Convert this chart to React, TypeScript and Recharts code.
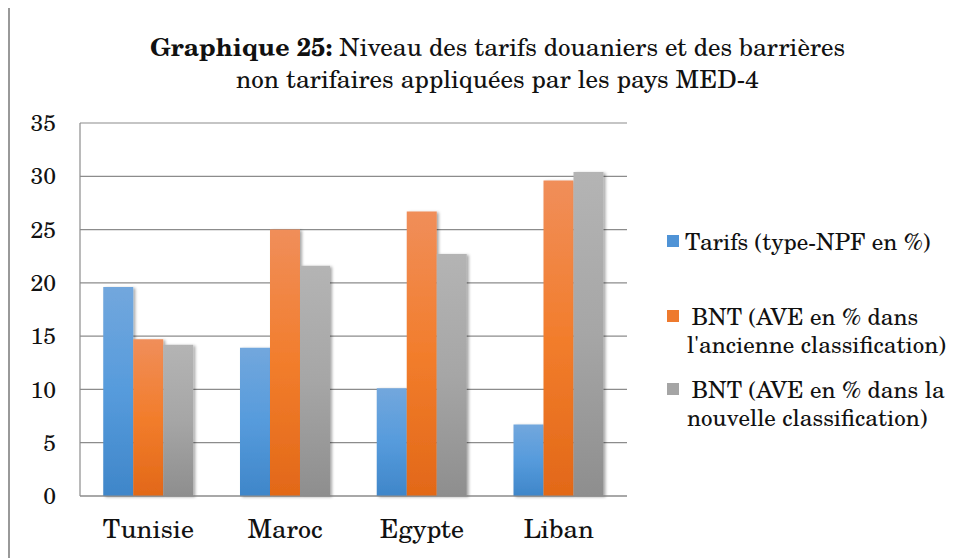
import { BarChart, Bar, XAxis, YAxis, CartesianGrid, Legend } from "recharts";

const countries = ["Tunisie", "Maroc", "Egypte", "Liban"];
const tarifs = [19.6, 13.9, 10.1, 6.7];
const bntAncienne = [14.7, 25.0, 26.7, 29.6];
const bntNouvelle = [14.2, 21.6, 22.7, 30.4];
const yTicks = [0, 5, 10, 15, 20, 25, 30, 35];

const legendItems = [
  { key: "tarifs", lines: ["Tarifs (type-NPF en %)"], color: "#4f93d6" },
  { key: "ancienne", lines: [" BNT (AVE en % dans", "l'ancienne classification)"], color: "#ee7a2e" },
  { key: "nouvelle", lines: [" BNT (AVE en % dans la", "nouvelle classification)"], color: "#a5a5a5" },
];

const data = countries.map((c, i) => ({
  country: c,
  tarifs: tarifs[i],
  ancienne: bntAncienne[i],
  nouvelle: bntNouvelle[i],
}));

const FONT = "'TeX Gyre Schola', 'Century Schoolbook L', 'Liberation Serif', serif";

function ChartLegend() {
  // spacing between entries follows the reference (uneven on purpose)
  const gaps = [0, 46, 16];
  return (
    <div style={{ fontFamily: FONT, fontSize: 23, color: "#111", lineHeight: "28.5px" }}>
      {legendItems.map((item, i) => (
        <div key={item.key} style={{ display: "flex", alignItems: "flex-start", marginTop: gaps[i] }}>
          <div style={{ width: 12, height: 12, background: item.color, marginTop: 8, marginRight: 6, flexShrink: 0 }} />
          <div>
            {item.lines.map((l, j) => (
              <div key={j} style={{ whiteSpace: "pre", marginLeft: j > 0 ? 2 : 0 }}>{l}</div>
            ))}
          </div>
        </div>
      ))}
    </div>
  );
}

export default function App() {
  return (
    <div
      style={{
        position: "relative",
        width: 970,
        height: 560,
        marginTop: -2,
        borderLeft: "2px solid #999",
        borderTop: "2px solid #999",
        overflow: "hidden",
      }}
    >
      <div
        style={{
          position: "absolute",
          left: 0,
          top: 22,
          width: 975,
          textAlign: "center",
          fontFamily: FONT,
          fontSize: 25,
          lineHeight: "32px",
          color: "#111",
        }}
      >
        <div>
          <b>Graphique 25:</b> Niveau des tarifs douaniers et des barrières
        </div>
        <div>non tarifaires appliquées par les pays MED-4</div>
      </div>
      <BarChart
        width={950}
        height={550}
        data={data}
        margin={{ top: 115, right: 33, left: 20, bottom: 22 }}
        barCategoryGap="17%"
        barGap={0}
      >
        <defs>
          <linearGradient id="gBlue" x1="0" y1="0" x2="0" y2="1">
            <stop offset="0%" stopColor="#72a7dd" />
            <stop offset="50%" stopColor="#569bdc" />
            <stop offset="100%" stopColor="#3f86c9" />
          </linearGradient>
          <linearGradient id="gOrange" x1="0" y1="0" x2="0" y2="1">
            <stop offset="0%" stopColor="#f08e5a" />
            <stop offset="50%" stopColor="#f27d2c" />
            <stop offset="100%" stopColor="#e26818" />
          </linearGradient>
          <linearGradient id="gGray" x1="0" y1="0" x2="0" y2="1">
            <stop offset="0%" stopColor="#b4b4b4" />
            <stop offset="50%" stopColor="#a6a6a6" />
            <stop offset="100%" stopColor="#8e8e8e" />
          </linearGradient>
          <filter id="shadow" x="-20%" y="-5%" width="150%" height="115%">
            <feDropShadow dx="2" dy="1" stdDeviation="1.6" floodColor="#000" floodOpacity="0.35" />
          </filter>
        </defs>
        <CartesianGrid vertical={false} stroke="#8c8c8c" strokeWidth={1.2} />
        <XAxis
          dataKey="country"
          interval={0}
          axisLine={{ stroke: "#8c8c8c", strokeWidth: 1.2 }}
          tickLine={false}
          tickSize={0}
          tickMargin={24}
          height={40}
          tick={{ fill: "#111", fontSize: 26, fontFamily: FONT }}
        />
        <YAxis
          domain={[0, 35]}
          ticks={yTicks}
          interval={0}
          width={50}
          axisLine={{ stroke: "#8c8c8c", strokeWidth: 1.2 }}
          tickLine={false}
          tickSize={0}
          tickMargin={24}
          tick={{ fill: "#111", fontSize: 23, fontFamily: FONT }}
        />
        <Legend
          layout="vertical"
          verticalAlign="top"
          align="right"
          wrapperStyle={{ left: 657, top: 219, width: 300 }}
          content={() => <ChartLegend />}
        />
        <Bar dataKey="tarifs" fill="url(#gBlue)" filter="url(#shadow)" isAnimationActive={false} />
        <Bar dataKey="ancienne" fill="url(#gOrange)" filter="url(#shadow)" isAnimationActive={false} />
        <Bar dataKey="nouvelle" fill="url(#gGray)" filter="url(#shadow)" isAnimationActive={false} />
      </BarChart>
    </div>
  );
}
